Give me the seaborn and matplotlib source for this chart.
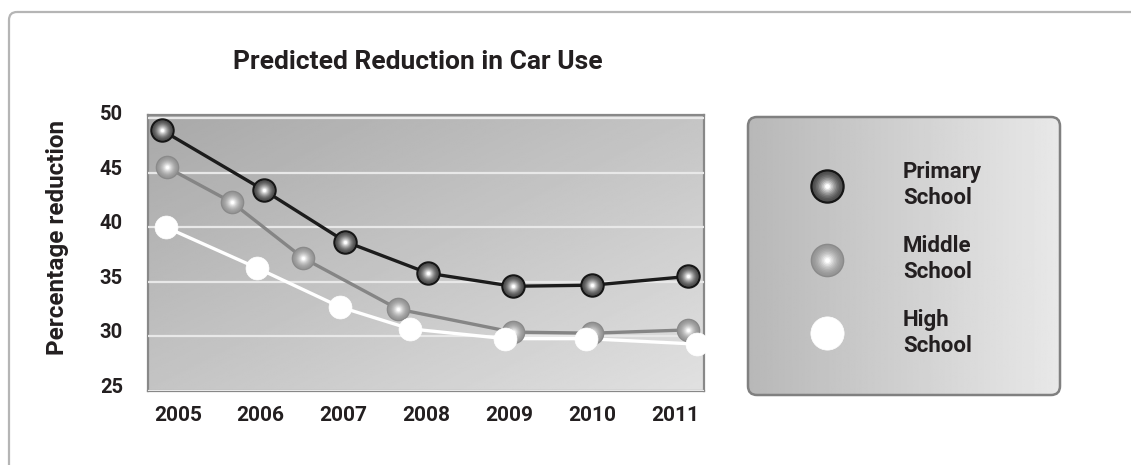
import numpy as np
import pandas as pd
import matplotlib
matplotlib.use("Agg")
import matplotlib.pyplot as plt
import seaborn as sns
from matplotlib.patches import FancyBboxPatch
from matplotlib.lines import Line2D
from matplotlib.legend_handler import HandlerTuple
import matplotlib.transforms as mtransforms
from matplotlib.colors import to_rgb

# data (x given in year units, markers sit a bit off the labels)
years = [2005, 2006, 2007, 2008, 2009, 2010, 2011]
y_ticks = [25, 30, 35, 40, 45, 50]
schools = ["Primary\nSchool", "Middle\nSchool", "High\nSchool"]

primary_x = [2004.81, 2006.04, 2007.02, 2008.02, 2009.04, 2010.00, 2011.16]
primary_y = [48.9, 43.4, 38.7, 35.8, 34.6, 34.7, 35.5]
middle_x = [2004.87, 2005.65, 2006.51, 2007.66, 2009.04, 2010.00, 2011.16]
middle_y = [45.5, 42.3, 37.2, 32.5, 30.4, 30.3, 30.6]
high_x = [2004.86, 2005.95, 2006.96, 2007.80, 2008.95, 2009.93, 2011.26]
high_y = [40.0, 36.3, 32.7, 30.7, 29.8, 29.8, 29.3]

df = pd.concat([
    pd.DataFrame({"x": primary_x, "y": primary_y, "school": schools[0]}),
    pd.DataFrame({"x": middle_x, "y": middle_y, "school": schools[1]}),
    pd.DataFrame({"x": high_x, "y": high_y, "school": schools[2]}),
])

sns.set_style("white")
plt.rcParams["font.family"] = ["Roboto", "DejaVu Sans"]
plt.rcParams["font.weight"] = "bold"
txt = "#231f20"

W, H = 1131, 465
fig = plt.figure(figsize=(W / 100, H / 100), dpi=100)
fig.patch.set_facecolor("white")

# overlay in pixel coords for the frame and legend box
over = fig.add_axes([0, 0, 1, 1], zorder=0)
over.set_xlim(0, W)
over.set_ylim(H, 0)
over.axis("off")
frame = FancyBboxPatch((9, 12), 1150, 480, boxstyle="round,pad=0,rounding_size=8",
                       fill=False, ec="#b5b5b5", lw=1.6)
over.add_patch(frame)

box = FancyBboxPatch((748, 117), 312, 278, boxstyle="round,pad=0,rounding_size=9",
                     fc="none", ec="#808080", lw=1.8, zorder=3)
over.add_patch(box)
grad_h = np.linspace(0.72, 0.91, 256).reshape(1, -1)
im = over.imshow(grad_h, cmap="gray", vmin=0, vmax=1, extent=(748, 1060, 395, 117),
                 aspect="auto", zorder=2)
im.set_clip_path(box)

# main plot
ax = fig.add_axes([148 / W, 74 / H, 556 / W, 276 / H], zorder=1)
ax.set_facecolor("none")
u, v = np.meshgrid(np.linspace(0, 1, 200), np.linspace(0, 1, 200))
grad = 0.66 + 0.22 * 0.5 * (u + v)
ax.imshow(grad, cmap="gray", vmin=0, vmax=1, extent=(0, 1, 0, 1), transform=ax.transAxes,
          aspect="auto", zorder=0, interpolation="bilinear", origin="upper")

palette = {schools[0]: "#1c1c1c", schools[1]: "#858585", schools[2]: "#ffffff"}
sns.lineplot(data=df, x="x", y="y", hue="school", palette=palette, sort=False,
             legend=False, lw=2.4, ax=ax, zorder=3)


def sphere_layers(base, edge, ew, ms, n=10):
    # concentric discs fading from base colour to a white highlight
    b = np.array(to_rgb(base))
    out = [(ms, base, edge, ew)]
    for i in range(1, n):
        f = i / (n - 1)
        out.append((ms * (1 - 0.85 * f), tuple(b + (1 - b) * f ** 1.6), "none", 0))
    return out


sphere = {
    schools[0]: sphere_layers("#4a4a4a", "#161616", 1.6, 16),
    schools[1]: sphere_layers("#959595", "#8a8a8a", 1.0, 16),
    schools[2]: [(16.5, "#ffffff", "#ffffff", 0.5)],
}

handles = []
for k, s in enumerate(schools):
    sub = df[df["school"] == s]
    parts = []
    for ms, fc, ec, ew in sphere[s]:
        ax.plot(sub["x"], sub["y"], ls="none", marker="o", ms=ms, mfc=fc, mec=ec, mew=ew,
                zorder=4 + k, clip_on=False)
        parts.append(Line2D([], [], ls="none", marker="o", ms=ms * 1.45, mfc=fc, mec=ec, mew=ew))
    handles.append(tuple(parts))

ax.set_xlim(2004.64, 2011.35)
ax.set_ylim(25, 50.3)
ax.set_xticks(years)
ax.set_xticklabels([str(y) for y in years])
ax.set_yticks(y_ticks)
ax.yaxis.grid(True, color="#e8e8e8", lw=1.6)
ax.xaxis.grid(False)
ax.set_axisbelow(False)
for gl in ax.get_ygridlines():
    gl.set_zorder(1)
ax.tick_params(axis="y", length=6, width=1.6, color="#e8e8e8", pad=12, labelsize=14.5, labelcolor=txt)
ax.tick_params(axis="x", length=0, pad=11, labelsize=15, labelcolor=txt)
yt = ax.yaxis.get_major_ticks()
yt[0].tick1line.set_visible(False)
yt[-1].tick1line.set_visible(False)
off = mtransforms.ScaledTranslation(0, 4 / 72, fig.dpi_scale_trans)
for lab in ax.get_yticklabels():
    lab.set_transform(lab.get_transform() + off)
for sp in ax.spines.values():
    sp.set_color("#888888")
    sp.set_linewidth(1.6)
    sp.set_zorder(2)

ax.set_xlabel("")
ax.set_ylabel("Percentage reduction", fontsize=17.5, fontweight="bold", color=txt)
ax.yaxis.set_label_coords(-0.142, 0.558)
ax.set_title("Predicted Reduction in Car Use", fontsize=19, fontweight="bold", color=txt,
             pad=33, x=0.485)

leg = ax.legend(handles, schools, handler_map={tuple: HandlerTuple(ndivide=1)},
                loc="upper left", bbox_to_anchor=(805 / W, (H - 161) / H),
                bbox_transform=fig.transFigure, frameon=False, fontsize=16,
                handlelength=2, handletextpad=2.41, labelspacing=1.15,
                borderpad=0, borderaxespad=0)
for t in leg.get_texts():
    t.set_color(txt)
    t.set_linespacing(1.25)
leg.set_zorder(10)

fig.savefig("out.png", dpi=100)
